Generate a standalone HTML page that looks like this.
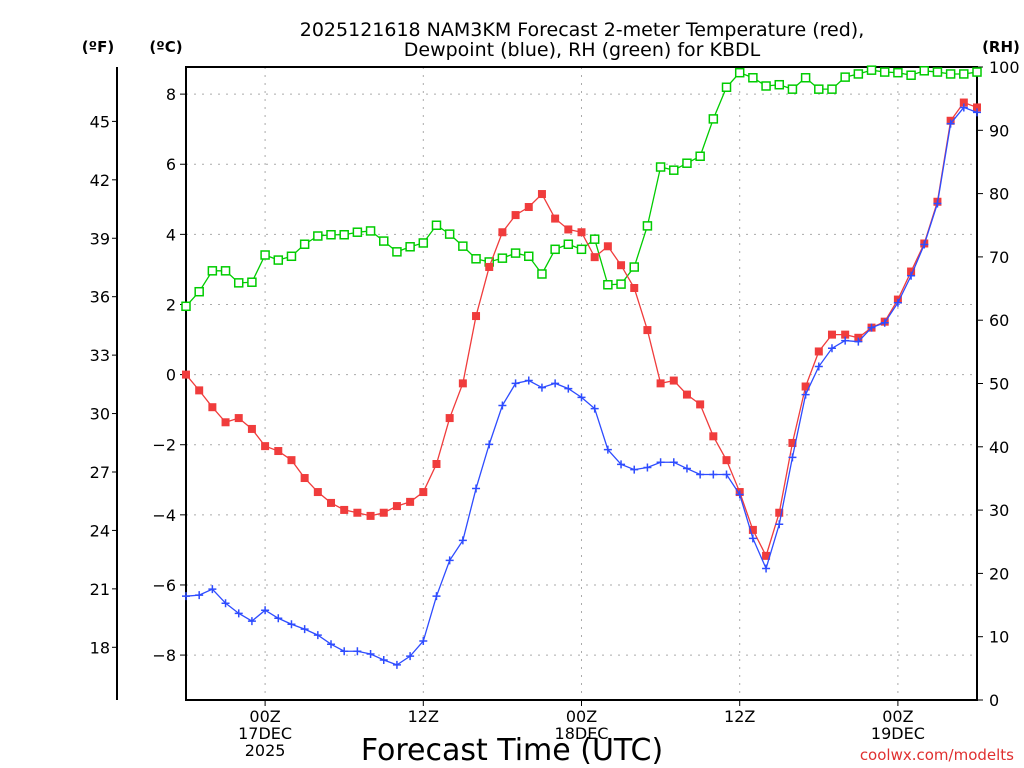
<!DOCTYPE html>
<html><head><meta charset="utf-8"><style>
body{margin:0;background:#fff;}
svg{display:block;font-family:"DejaVu Sans","Liberation Sans",sans-serif;}
</style></head><body>
<svg id="chart" width="1024" height="768" viewBox="0 0 1024 768">
<text x="582" y="36" text-anchor="middle" font-size="19">2025121618 NAM3KM Forecast 2-meter Temperature (red),</text>
<text x="582" y="56" text-anchor="middle" font-size="19">Dewpoint (blue), RH (green) for KBDL</text>
<text x="98" y="52" text-anchor="middle" font-size="15" font-weight="bold">(ºF)</text>
<text x="166" y="52" text-anchor="middle" font-size="15" font-weight="bold">(ºC)</text>
<text x="1001" y="52" text-anchor="middle" font-size="15" font-weight="bold">(RH)</text>
<text x="512" y="760" text-anchor="middle" font-size="30">Forecast Time (UTC)</text>
<text x="1014" y="760" text-anchor="end" font-size="15" fill="#e03030">coolwx.com/modelts</text>
<g id="grid"></g><g id="axes"></g><g id="series"></g>
</svg>
<script>
const hours=[0,1,2,3,4,5,6,7,8,9,10,11,12,13,14,15,16,17,18,19,20,21,22,23,24,25,26,27,28,29,30,31,32,33,34,35,36,37,38,39,40,41,42,43,44,45,46,47,48,49,50,51,52,53,54,55,56,57,58,59,60];
const tempC=[0.0,-0.45,-0.93,-1.36,-1.24,-1.55,-2.04,-2.18,-2.44,-2.95,-3.35,-3.66,-3.86,-3.94,-4.03,-3.94,-3.75,-3.63,-3.35,-2.55,-1.24,-0.25,1.67,3.07,4.06,4.55,4.78,5.15,4.45,4.14,4.06,3.35,3.66,3.12,2.47,1.27,-0.25,-0.17,-0.57,-0.85,-1.76,-2.44,-3.35,-4.43,-5.17,-3.94,-1.95,-0.34,0.66,1.14,1.14,1.05,1.34,1.51,2.14,2.94,3.74,4.93,7.24,7.76,7.62];
const dewC=[-6.32,-6.29,-6.12,-6.52,-6.81,-7.03,-6.72,-6.95,-7.12,-7.26,-7.43,-7.69,-7.89,-7.89,-7.97,-8.14,-8.28,-8.03,-7.6,-6.32,-5.3,-4.73,-3.25,-1.99,-0.88,-0.25,-0.17,-0.37,-0.25,-0.4,-0.65,-0.97,-2.14,-2.56,-2.71,-2.65,-2.5,-2.5,-2.68,-2.85,-2.85,-2.85,-3.42,-4.67,-5.53,-4.27,-2.36,-0.57,0.23,0.75,0.97,0.94,1.34,1.48,2.05,2.82,3.71,4.88,7.16,7.62,7.48];
const rh=[62.2,64.5,67.8,67.8,65.9,66.0,70.3,69.5,70.1,72.0,73.3,73.5,73.5,73.9,74.1,72.5,70.8,71.6,72.2,75.0,73.6,71.7,69.7,69.2,69.8,70.6,70.1,67.3,71.2,72.0,71.2,72.8,65.6,65.7,68.4,74.9,84.2,83.7,84.8,85.9,91.8,96.8,99.1,98.3,97.0,97.2,96.5,98.3,96.5,96.5,98.4,98.9,99.5,99.2,99.1,98.7,99.4,99.2,98.9,98.9,99.2];
const cTicks=[-8,-6,-4,-2,0,2,4,6,8];
const fTicks=[18,21,24,27,30,33,36,39,42,45];
const rhTicks=[0,10,20,30,40,50,60,70,80,90,100];
const xTickHours=[6,18,30,42,54];
const xTickLabels=[["00Z","17DEC","2025"],["12Z"],["00Z","18DEC"],["12Z"],["00Z","19DEC"]];

const L=186,R=977,T=67,B=700;
const xS=h=>L+(R-L)*h/60;
const yC=c=>374.6-c*35.06;
const yRH=v=>B-(B-T)*v/100;
const NS="http://www.w3.org/2000/svg";
function mk(tag,parent,attrs){const e=document.createElementNS(NS,tag);for(const k in attrs)e.setAttribute(k,attrs[k]);parent.appendChild(e);return e;}
const grid=document.getElementById('grid'),axes=document.getElementById('axes'),ser=document.getElementById('series');
cTicks.forEach(c=>{const y=yC(c);
 const g=mk('line',grid,{x1:L,x2:R,y1:y,y2:y,stroke:'#aaa','stroke-dasharray':'2,6'});
 
 
 mk('line',axes,{x1:L-6,x2:L,y1:y,y2:y,stroke:'#000'});
 const t=mk('text',axes,{x:L-10,y:y+6,'text-anchor':'end','font-size':16});t.textContent=(c<0?'−':'')+Math.abs(c);
 
 
});
fTicks.forEach(f=>{const y=yC((f-32)*5/9);
 mk('line',axes,{x1:112,x2:117,y1:y,y2:y,stroke:'#000'});
 const t=mk('text',axes,{x:110,y:y+6,'text-anchor':'end','font-size':16});t.textContent=f;
 
 
});
rhTicks.forEach(v=>{const y=yRH(v);
 mk('line',axes,{x1:R,x2:R+6,y1:y,y2:y,stroke:'#000'});
 const t=mk('text',axes,{x:R+12,y:y+6,'font-size':16});t.textContent=v;
 
 
});
xTickHours.forEach((h,i)=>{const x=xS(h);
 const g=mk('line',grid,{x1:x,x2:x,y1:T,y2:B,stroke:'#aaa','stroke-dasharray':'2,6'});
 
 
 mk('line',axes,{x1:x,x2:x,y1:B,y2:B+6,stroke:'#000'});
 xTickLabels[i].forEach((s,j)=>{const t=mk('text',axes,{x:x,y:B+22+j*17,'text-anchor':'middle','font-size':16});t.textContent=s;
  
  });
});
mk('line',axes,{x1:117,x2:117,y1:T,y2:B,stroke:'#000','stroke-width':2});
mk('rect',axes,{x:L,y:T,width:R-L,height:B-T,fill:'none',stroke:'#000','stroke-width':2});
function line(vals,yf,color,name){
 const p=mk('polyline',ser,{points:vals.map((v,i)=>xS(hours[i])+','+yf(v)).join(' '),fill:'none',stroke:color,'stroke-width':1.3});
 
 
}
line(rh,yRH,'#00cc00','rh-line');
rh.forEach((v,i)=>{const m=mk('rect',ser,{x:xS(hours[i])-4,y:yRH(v)-4,width:8,height:8,fill:'#fff',stroke:'#00cc00','stroke-width':1.5});
 
 });
line(tempC,yC,'#f03c3c','temperature-line');
tempC.forEach((v,i)=>{const m=mk('rect',ser,{x:xS(hours[i])-4,y:yC(v)-4,width:8,height:8,fill:'#f03c3c'});
 
 });
line(dewC,yC,'#2e4cff','dewpoint-line');
dewC.forEach((v,i)=>{const x=xS(hours[i]),y=yC(v);
 const m=mk('path',ser,{d:`M${x-4},${y}H${x+4}M${x},${y-4}V${y+4}`,stroke:'#2e4cff','stroke-width':1.5});
 
 });
</script>
</body></html>
